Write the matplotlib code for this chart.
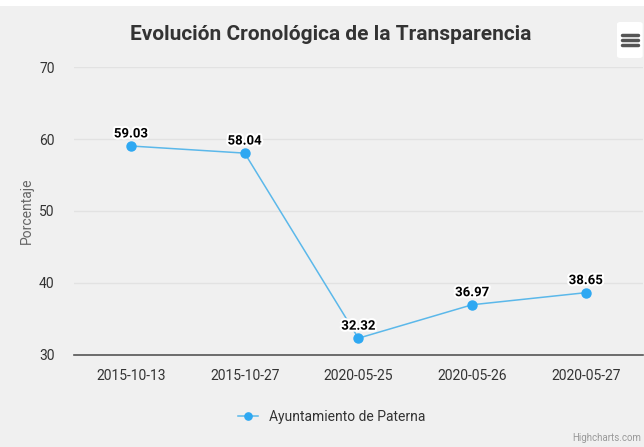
import matplotlib.pyplot as plt
import matplotlib.patheffects as pe
from matplotlib.patches import Rectangle, FancyBboxPatch

plt.rcParams['font.family'] = ['Roboto', 'DejaVu Sans']

fechas = ['2015-10-13', '2015-10-27', '2020-05-25', '2020-05-26', '2020-05-27']
porcentaje = [59.03, 58.04, 32.32, 36.97, 38.65]
serie = 'Ayuntamiento de Paterna'
bg = '#f0f0f0'

fig = plt.figure(figsize=(6.44, 4.47), dpi=100, facecolor=bg)
# white strip at the very top
fig.patches.append(Rectangle((0, 1 - 6 / 447), 1, 6 / 447, transform=fig.transFigure,
                             facecolor='white', edgecolor='none', zorder=0))

ax = fig.add_axes([0.115, 0.206, 0.883, 0.644])
ax.set_facecolor(bg)

x = list(range(len(fechas)))
ax.plot(x, porcentaje, color='#5bb8ea', lw=1.1, marker='o', markersize=6.5,
        markerfacecolor='#2ea8f2', markeredgecolor='#2ea8f2', label=serie, zorder=3)

for xi, v in zip(x, porcentaje):
    ax.annotate(f'{v:.2f}', (xi, v), xytext=(0, 4), textcoords='offset points',
                ha='center', va='bottom', fontsize=9.5, fontweight='bold', color='black',
                path_effects=[pe.withStroke(linewidth=3, foreground='white')], zorder=4)

ax.set_xlim(-0.5, len(fechas) - 0.5)
ax.set_ylim(30, 70)
ax.set_yticks([30, 40, 50, 60, 70])
ax.set_xticks(x)
ax.set_xticklabels(fechas)
ax.grid(axis='y', color='#e2e2e2', lw=1)
ax.set_axisbelow(True)
for s in ['top', 'right', 'left']:
    ax.spines[s].set_visible(False)
ax.spines['bottom'].set_color('#555555')
ax.spines['bottom'].set_linewidth(1.2)
ax.tick_params(axis='both', length=0, labelsize=10, colors='#333333')
ax.tick_params(axis='x', pad=10)
ax.tick_params(axis='y', pad=14)
ax.set_ylabel('Porcentaje', fontsize=10, color='#666666', labelpad=4)

fig.text(0.514, 1 - 35 / 447, 'Evolución Cronológica de la Transparencia', ha='center', va='center',
         fontsize=15, fontweight='bold', color='#333333')

leg = fig.legend(loc='center', bbox_to_anchor=(0.515, 1 - 417 / 447), frameon=False,
                 fontsize=10, handlelength=1.4, markerscale=0.8, labelcolor='#333333')

# hamburger menu button
fig.patches.append(FancyBboxPatch((0.958, 1 - 58 / 447), 0.04, 36 / 447,
                                  boxstyle='round,pad=0,rounding_size=0.005',
                                  transform=fig.transFigure, facecolor='white',
                                  edgecolor='none', zorder=1))
for dy in [-5, 0, 5]:
    fig.add_artist(plt.Line2D([0.966, 0.990], [1 - (40 + dy) / 447] * 2,
                              transform=fig.transFigure, color='#555555', lw=2.5,
                              solid_capstyle='round'))

fig.text(0.996, 0.01, 'Highcharts.com', ha='right', va='bottom', fontsize=7, color='#999999')

fig.savefig('out.png', dpi=100, facecolor=bg)
